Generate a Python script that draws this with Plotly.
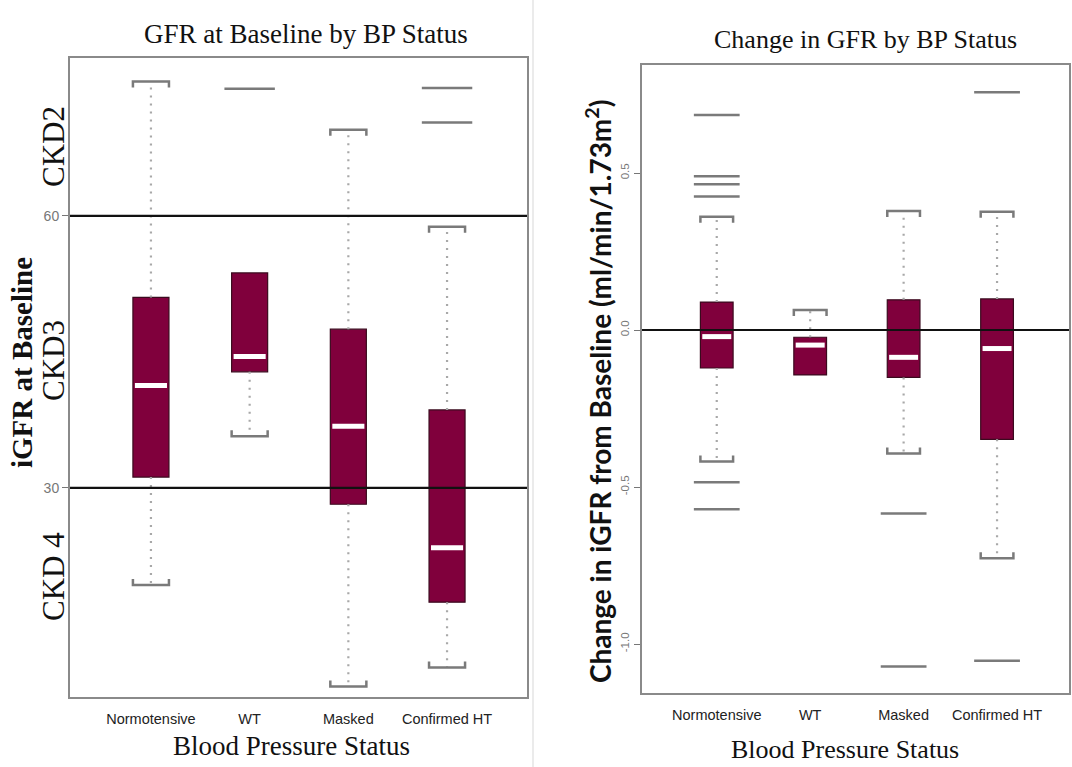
import plotly.graph_objects as go

categories = ["Normotensive", "WT", "Masked", "Confirmed HT"]

# Panel 1: iGFR at baseline
base_lower = [19.3, 35.7, 8.1, 10.2]
base_q1 = [31.2, 42.8, 28.2, 17.4]
base_median = [41.3, 44.5, 36.8, 23.4]
base_q3 = [51.0, 53.7, 47.5, 38.6]
base_upper = [74.8, 53.7, 69.5, 58.8]
base_outliers = [[], [74.0], [], [74.1, 70.3]]
base_ref_lines = [60, 30]
base_ticks = [30, 60]

# Panel 2: change in iGFR from baseline
chg_lower = [-0.419, -0.143, -0.393, -0.727]
chg_q1 = [-0.121, -0.143, -0.151, -0.348]
chg_median = [-0.021, -0.048, -0.087, -0.059]
chg_q3 = [0.089, -0.023, 0.096, 0.099]
chg_upper = [0.361, 0.064, 0.379, 0.377]
chg_outliers = [[0.685, 0.49, 0.464, 0.425, -0.485, -0.571], [], [-0.584, -1.072], [0.757, -1.053]]
chg_ref_lines = [0.0]
chg_ticks = [-1.0, -0.5, 0.0, 0.5]

W, H = 1072, 767
BOX_COLOR = "#80003c"
BOX_EDGE = "#3a0a1e"
WHISK = "#a8a8a8"
CAP = "#7a7a7a"

panels = [
    dict(xa="x", ya="y", xdom=[70 / W, 527 / W], ydom=[1 - 697 / H, 1 - 58 / H],
         xr=[-0.82, 3.81], yr=[6.95, 77.4], bw=0.365,
         lo=base_lower, q1=base_q1, med=base_median, q3=base_q3, up=base_upper,
         out=base_outliers, refs=base_ref_lines, ticks=base_ticks,
         ticktext=[str(t) for t in base_ticks], tickangle=0, tfs=14),
    dict(xa="x2", ya="y2", xdom=[642 / W, 1069 / W], ydom=[1 - 693 / H, 1 - 65 / H],
         xr=[-0.80, 3.77], yr=[-1.156, 0.844], bw=0.35,
         lo=chg_lower, q1=chg_q1, med=chg_median, q3=chg_q3, up=chg_upper,
         out=chg_outliers, refs=chg_ref_lines, ticks=chg_ticks,
         ticktext=["%.1f" % t for t in chg_ticks], tickangle=-90, tfs=11.5),
]

fig = go.Figure()
layout_axes = {}
shapes = []

for i, p in enumerate(panels):
    pos = list(range(len(categories)))
    bw = p["bw"]
    plot_h = (p["ydom"][1] - p["ydom"][0]) * H
    d = 6 * (p["yr"][1] - p["yr"][0]) / plot_h  # cap tick length in data units
    outlier_px = bw / (p["xr"][1] - p["xr"][0]) * (p["xdom"][1] - p["xdom"][0]) * W

    # whiskers (dotted)
    wx, wy = [], []
    for c, lo, q1, q3, up in zip(pos, p["lo"], p["q1"], p["q3"], p["up"]):
        if up > q3:
            wx += [c, c, None]; wy += [q3, up, None]
        if lo < q1:
            wx += [c, c, None]; wy += [q1, lo, None]
    fig.add_trace(go.Scatter(x=wx, y=wy, mode="lines", xaxis=p["xa"], yaxis=p["ya"],
                             line=dict(color=WHISK, width=2.2, dash="2px,6px"),
                             hoverinfo="skip", showlegend=False))
    # caps
    cx, cy = [], []
    for c, lo, q1, q3, up in zip(pos, p["lo"], p["q1"], p["q3"], p["up"]):
        if up > q3:
            cx += [c - bw / 2, c - bw / 2, c + bw / 2, c + bw / 2, None]
            cy += [up - d, up, up, up - d, None]
        if lo < q1:
            cx += [c - bw / 2, c - bw / 2, c + bw / 2, c + bw / 2, None]
            cy += [lo + d, lo, lo, lo + d, None]
    fig.add_trace(go.Scatter(x=cx, y=cy, mode="lines", xaxis=p["xa"], yaxis=p["ya"],
                             line=dict(color=CAP, width=2.5),
                             hoverinfo="skip", showlegend=False))
    # boxes
    fig.add_trace(go.Bar(x=pos, y=[b - a for a, b in zip(p["q1"], p["q3"])], base=p["q1"],
                         width=bw, xaxis=p["xa"], yaxis=p["ya"],
                         marker=dict(color=BOX_COLOR, line=dict(color=BOX_EDGE, width=1.2)),
                         hoverinfo="skip", showlegend=False))
    # medians
    mx, my = [], []
    for c, m in zip(pos, p["med"]):
        mx += [c - bw / 2 + 0.02, c + bw / 2 - 0.02, None]; my += [m, m, None]
    fig.add_trace(go.Scatter(x=mx, y=my, mode="lines", xaxis=p["xa"], yaxis=p["ya"],
                             line=dict(color="white", width=5),
                             hoverinfo="skip", showlegend=False))
    # outliers
    ox, oy = [], []
    for c, outs in zip(pos, p["out"]):
        for v in outs:
            ox.append(c); oy.append(v)
    fig.add_trace(go.Scatter(x=ox, y=oy, mode="markers", xaxis=p["xa"], yaxis=p["ya"],
                             marker=dict(symbol="line-ew", size=outlier_px,
                                         line=dict(color=CAP, width=2.5)),
                             hoverinfo="skip", showlegend=False))
    # reference lines
    for r in p["refs"]:
        shapes.append(dict(type="line", xref=p["xa"] + " domain", yref=p["ya"],
                           x0=0, x1=1, y0=r, y1=r, line=dict(color="#111", width=2.2)))

    suffix = "" if i == 0 else "2"
    layout_axes["xaxis" + suffix] = dict(
        domain=p["xdom"], range=p["xr"], anchor=p["ya"], tickvals=pos, ticktext=categories,
        showgrid=False, zeroline=False, showline=True, mirror=True, linecolor="#8a8a8a",
        linewidth=2, ticks="", ticklabelstandoff=8,
        tickfont=dict(family="Liberation Sans", size=14.5, color="#222"))
    layout_axes["yaxis" + suffix] = dict(
        domain=p["ydom"], range=p["yr"], anchor=p["xa"], tickvals=p["ticks"],
        ticktext=p["ticktext"], tickangle=p["tickangle"],
        showgrid=False, zeroline=False, showline=True, mirror=True, linecolor="#8a8a8a",
        linewidth=2, ticks="outside", ticklen=6, tickcolor="#777",
        tickfont=dict(family="Liberation Sans", size=p["tfs"], color="#777"))

serif = "Liberation Serif"


def ann(text, x, y, size, angle=0, family=serif):
    return dict(text=text, x=x / W, y=1 - y / H, xref="paper", yref="paper",
                xanchor="center", yanchor="middle", showarrow=False, textangle=angle,
                font=dict(family=family, size=size, color="#111"))


annotations = [
    ann("GFR at Baseline by BP Status", 306, 34, 27),
    ann("Change in GFR by BP Status", 865, 40, 26),
    ann("Blood Pressure Status", 291, 746, 27),
    ann("Blood Pressure Status", 845, 749, 26),
    ann("<b>iGFR at Baseline</b>", 22, 363, 29, -90),
    ann("CKD2", 53, 147, 31, -90),
    ann("CKD3", 53, 361, 31, -90),
    ann("CKD 4", 53, 577, 31, -90),
    ann("<b>Change in iGFR from Baseline (ml/min/1.73m<sup>2</sup>)</b>", 598, 392, 28, -90,
        family="Lato"),
]
shapes.append(dict(type="line", xref="paper", yref="paper", x0=533 / W, x1=533 / W, y0=0, y1=1,
                   line=dict(color="#e4e4e4", width=1.5)))

fig.update_layout(width=W, height=H, margin=dict(l=0, r=0, t=0, b=0),
                  paper_bgcolor="white", plot_bgcolor="white", showlegend=False,
                  shapes=shapes, annotations=annotations, **layout_axes)

fig.write_html("out.html")
